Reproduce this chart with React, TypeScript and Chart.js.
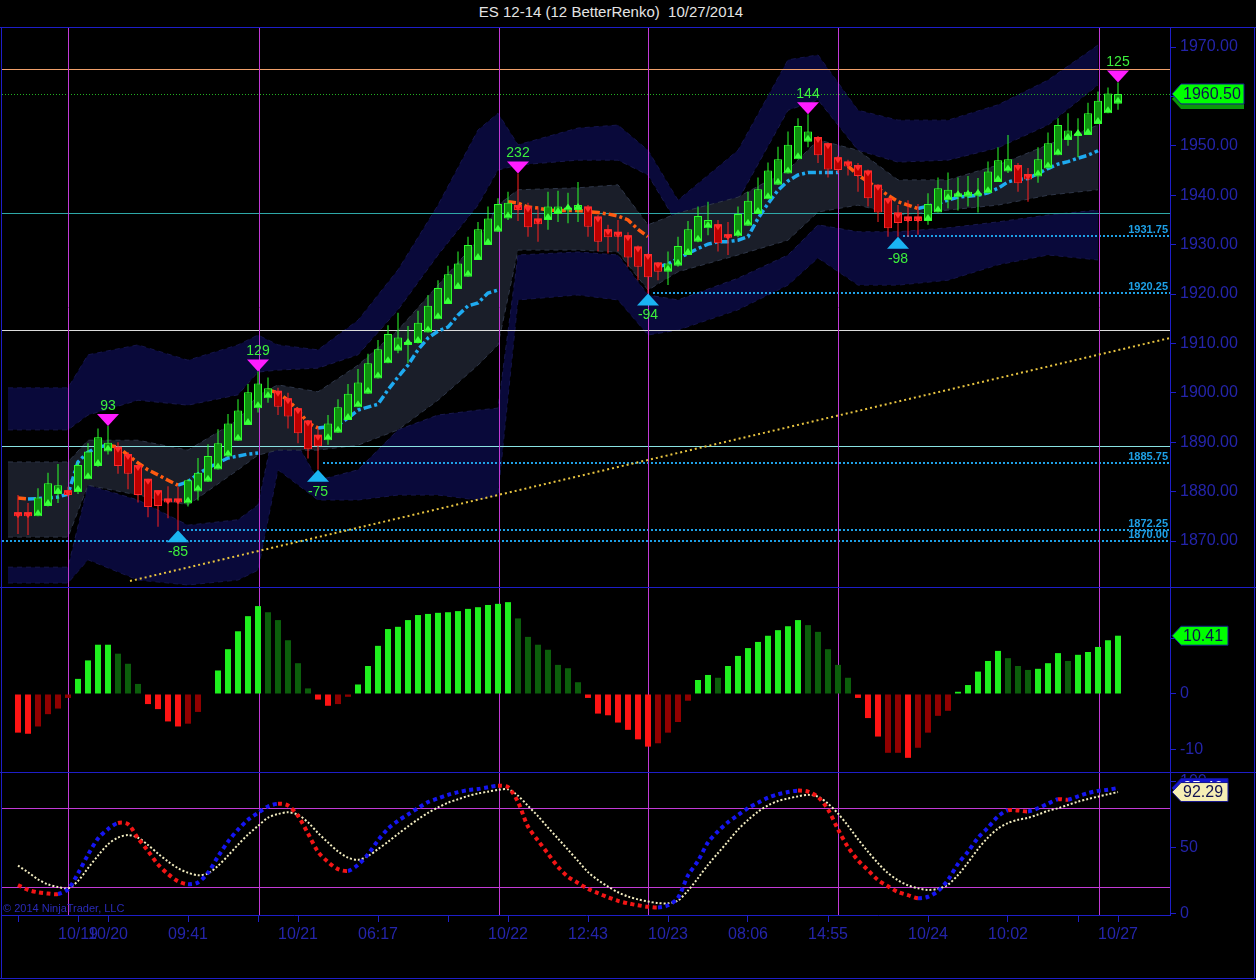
import React, { useEffect, useRef } from 'react';
import { Chart, registerables } from 'chart.js';

Chart.register(...registerables);

// ---------------- data ----------------
const openP = [
  1875.8, 1875.8, 1875.0, 1877.1, 1879.5, 1880.3, 1879.9, 1882.5, 1885.2, 1888.1,
  1889.1, 1887.6, 1885.4, 1882.6, 1880.3, 1878.6, 1878.6, 1877.6, 1880.0, 1882.0,
  1884.5, 1887.1, 1890.3, 1893.5, 1896.9, 1898.9, 1900.4, 1898.9, 1896.9, 1894.4,
  1891.5, 1890.4, 1891.9, 1894.5, 1897.1, 1899.8, 1902.9, 1906.0, 1908.5, 1909.7,
  1910.1, 1912.2, 1914.9, 1918.0, 1921.0, 1923.5, 1926.9, 1929.9, 1932.6, 1935.3,
  1938.0, 1937.7, 1935.3, 1935.0, 1936.2, 1936.9, 1937.0, 1937.7, 1935.7, 1933.1,
  1932.6, 1931.9, 1929.6, 1928.1, 1926.4, 1924.5, 1925.7, 1927.9, 1930.6, 1933.3,
  1934.1, 1932.1, 1931.7, 1933.8, 1936.2, 1939.2, 1942.1, 1944.4, 1947.3, 1950.8,
  1951.8, 1950.5, 1947.7, 1946.8, 1946.1, 1945.0, 1942.1, 1939.4, 1936.5, 1935.7,
  1935.7, 1934.8, 1936.5, 1939.0, 1939.6, 1939.7, 1939.9, 1940.4, 1942.7, 1944.8,
  1946.1, 1944.3, 1943.8, 1945.4, 1948.1, 1951.2, 1952.0, 1952.2, 1954.4, 1956.6,
  1958.5,
];
const closeP = [
  1875.0, 1875.0, 1878.8, 1881.7, 1881.3, 1879.3, 1885.4, 1888.1, 1891.0, 1889.9,
  1885.2, 1883.6, 1879.3, 1876.9, 1877.1, 1877.8, 1877.8, 1882.3, 1883.8, 1887.2,
  1889.8, 1893.8, 1896.4, 1900.1, 1901.9, 1900.9, 1897.2, 1895.2, 1891.8, 1888.6,
  1889.2, 1893.8, 1897.1, 1899.8, 1902.1, 1906.0, 1908.8, 1911.9, 1911.2, 1910.3,
  1914.2, 1917.6, 1921.2, 1924.0, 1926.2, 1929.9, 1933.1, 1935.3, 1938.2, 1938.5,
  1937.0, 1933.5, 1934.1, 1937.7, 1937.7, 1937.5, 1938.0, 1933.6, 1930.6, 1931.5,
  1931.6, 1927.4, 1925.5, 1923.4, 1924.5, 1926.2, 1929.7, 1933.1, 1935.8, 1935.0,
  1930.3, 1931.4, 1936.2, 1938.9, 1941.2, 1945.0, 1947.3, 1950.2, 1954.0, 1952.9,
  1948.1, 1945.2, 1945.1, 1945.8, 1943.9, 1939.4, 1936.5, 1933.3, 1934.4, 1934.8,
  1934.8, 1938.2, 1941.4, 1941.1, 1940.4, 1940.7, 1940.4, 1944.8, 1947.1, 1947.3,
  1942.4, 1943.2, 1947.3, 1950.5, 1954.2, 1953.1, 1952.5, 1956.6, 1959.1, 1960.6,
  1960.5,
];
const highP = [
  1879.3, 1877.7, 1880.7, 1883.8, 1885.6, 1881.0, 1886.0, 1889.8, 1892.8, 1893.3,
  1890.0, 1888.0, 1885.5, 1882.6, 1880.3, 1881.1, 1881.0, 1882.5, 1886.8, 1889.6,
  1892.6, 1895.7, 1898.7, 1901.8, 1904.3, 1903.1, 1901.0, 1900.0, 1897.0, 1894.5,
  1892.8, 1895.5, 1898.7, 1901.8, 1904.8, 1907.9, 1910.7, 1913.7, 1916.2, 1913.5,
  1916.6, 1919.8, 1922.8, 1925.7, 1928.6, 1931.6, 1934.6, 1937.7, 1939.4, 1940.7,
  1944.4, 1938.5, 1937.5, 1940.7, 1940.9, 1940.5, 1942.7, 1938.0, 1936.0, 1934.0,
  1935.0, 1932.5, 1929.8, 1928.2, 1926.5, 1928.6, 1931.6, 1934.8, 1937.7, 1938.7,
  1935.0, 1934.6, 1937.7, 1940.7, 1943.6, 1946.6, 1949.8, 1952.9, 1955.6, 1956.4,
  1952.0, 1950.6, 1948.0, 1947.2, 1946.5, 1945.2, 1942.2, 1939.5, 1938.0, 1939.0,
  1938.2, 1940.4, 1943.6, 1944.6, 1943.6, 1943.9, 1943.5, 1946.8, 1949.7, 1952.2,
  1946.5, 1945.5, 1949.7, 1952.7, 1955.6, 1956.6, 1955.6, 1958.7, 1961.0, 1961.8,
  1962.8,
];
const lowP = [
  1871.4, 1871.2, 1875.0, 1877.0, 1877.7, 1879.0, 1879.5, 1882.5, 1885.0, 1887.5,
  1883.6, 1880.5, 1877.8, 1874.8, 1872.9, 1874.6, 1872.2, 1877.0, 1878.2, 1882.0,
  1884.5, 1887.0, 1890.3, 1893.5, 1896.0, 1898.0, 1895.5, 1892.8, 1889.8, 1886.7,
  1884.4, 1889.5, 1891.9, 1894.5, 1897.1, 1899.8, 1902.9, 1906.0, 1908.0, 1906.0,
  1910.0, 1912.2, 1914.9, 1918.0, 1921.0, 1923.5, 1926.9, 1929.9, 1932.6, 1935.0,
  1934.8, 1931.6, 1930.6, 1933.0, 1934.6, 1934.3, 1934.6, 1931.6, 1928.6, 1928.2,
  1928.6, 1925.5, 1922.8, 1920.1, 1922.8, 1921.8, 1925.5, 1927.9, 1930.5, 1931.9,
  1928.6, 1927.9, 1931.5, 1933.8, 1936.2, 1939.2, 1942.1, 1944.4, 1947.3, 1949.7,
  1946.5, 1943.6, 1944.5, 1944.0, 1940.7, 1937.7, 1934.6, 1931.6, 1931.6, 1931.6,
  1932.0, 1934.0, 1936.5, 1937.3, 1936.9, 1937.7, 1936.5, 1940.4, 1942.7, 1944.5,
  1940.7, 1938.7, 1942.5, 1945.4, 1948.1, 1950.0, 1947.7, 1952.2, 1954.4, 1956.6,
  1957.3,
];

// trailing line (up = cyan, down = orange), segments by start bar
const maUpStarts = [1, 16, 30, 64, 90];
const maUpSegs = [
  [1878.5, 1878.6, 1878.7, 1878.9, 1879.5, 1886.0, 1888.0, 1889.0, 1889.4],
  [1881.3, 1882.0, 1883.6, 1884.8, 1885.8, 1886.8, 1887.2, 1887.6, 1887.8],
  [1892.9, 1893.1, 1893.5, 1894.9, 1896.5, 1897.1, 1897.7, 1900.6, 1903.2, 1905.6,
    1908.7, 1911.1, 1912.5, 1913.3, 1915.7, 1917.6, 1918.2, 1920.2, 1920.8],
  [1925.5, 1926.1, 1927.2, 1928.2, 1929.2, 1930.1, 1930.6, 1930.6, 1930.9, 1931.6,
    1935.3, 1938.3, 1941.0, 1942.9, 1944.1, 1944.6, 1944.6, 1944.6, 1944.6],
  [1937.3, 1937.8, 1938.3, 1939.0, 1939.6, 1939.8, 1940.0, 1940.5, 1941.4, 1942.7,
    1943.2, 1943.4, 1944.4, 1945.4, 1946.3, 1946.8, 1947.5, 1948.1, 1949.0],
];
const maDownStarts = [0, 9, 25, 49, 83];
const maDownSegs = [
  [1878.7, 1878.5],
  [1889.4, 1889.0, 1887.4, 1885.8, 1884.4, 1883.4, 1882.3, 1881.3],
  [1900.6, 1900.0, 1898.5, 1896.5, 1893.9, 1892.9],
  [1938.7, 1938.4, 1937.6, 1937.4, 1937.0, 1936.9, 1936.9, 1936.9, 1936.7, 1936.5,
    1936.2, 1935.8, 1935.0, 1933.1, 1931.6],
  [1945.9, 1944.1, 1942.7, 1941.4, 1940.0, 1938.7, 1938.0, 1937.3],
];

// envelope bands (knots at bar indexes)
const bandIdx = [-1, 5, 7, 12, 17, 22, 24, 26, 30, 34, 38, 42, 46, 48, 50, 56, 60, 63, 66, 72, 77, 80, 84, 88, 93, 98, 103, 108];
const navyTop = [1901.0, 1901.0, 1907.7, 1909.7, 1906.6, 1909.7, 1911.7, 1909.7, 1908.7, 1914.7, 1924.9, 1938.0, 1953.2, 1956.6, 1950.2, 1953.6, 1954.2, 1949.1, 1939.0, 1949.1, 1967.4, 1968.4, 1957.2, 1955.2, 1955.2, 1958.3, 1963.3, 1970.4];
const navyTopInner = [1892.5, 1892.5, 1895.5, 1898.5, 1897.5, 1899.6, 1904.2, 1904.6, 1905.0, 1907.7, 1916.8, 1927.9, 1938.0, 1945.1, 1946.1, 1947.1, 1947.1, 1944.1, 1934.0, 1939.0, 1957.2, 1959.3, 1949.1, 1946.7, 1947.1, 1949.6, 1954.2, 1962.3];
const slateTop = [1886.0, 1886.0, 1890.4, 1890.4, 1888.4, 1894.5, 1899.6, 1901.6, 1900.2, 1905.6, 1912.7, 1921.8, 1930.9, 1938.0, 1941.1, 1941.5, 1942.1, 1934.0, 1936.4, 1939.6, 1945.1, 1951.2, 1949.1, 1943.1, 1943.1, 1946.1, 1950.2, 1954.2];
const slateBot = [1870.8, 1870.8, 1881.3, 1879.3, 1877.3, 1884.4, 1887.4, 1888.4, 1888.4, 1889.4, 1892.5, 1898.5, 1905.6, 1909.7, 1928.9, 1928.9, 1928.5, 1920.8, 1924.5, 1927.9, 1930.9, 1936.6, 1938.0, 1936.0, 1937.0, 1938.0, 1940.0, 1941.1];
const navyBotInner = [1864.7, 1864.7, 1881.3, 1878.3, 1873.2, 1874.3, 1877.3, 1896.5, 1882.3, 1884.4, 1892.5, 1895.5, 1896.5, 1896.9, 1927.9, 1928.5, 1927.9, 1919.8, 1918.8, 1923.2, 1927.9, 1934.0, 1932.6, 1932.6, 1933.4, 1934.6, 1936.0, 1937.0];
const navyBot = [1861.5, 1861.5, 1866.2, 1862.1, 1861.1, 1862.1, 1864.1, 1884.4, 1878.3, 1878.3, 1879.3, 1879.3, 1878.3, 1879.3, 1918.8, 1919.8, 1918.8, 1911.7, 1912.7, 1916.8, 1921.8, 1927.3, 1921.8, 1921.8, 1922.8, 1925.9, 1927.9, 1926.9];

const levelPrices = [1965.5, 1936.45, 1912.7, 1889.2];
const levelColors = ['#f0a06c', '#2ea8a8', '#dcdcdc', '#8ae2e2'];
const supportPrices = [1931.75, 1920.25, 1885.75, 1872.25, 1870.0];
const supportFrom = [88.5, 63.5, 30.5, 16.5, -1.6];
const supportText = ['1931.75', '1920.25', '1885.75', '1872.25', '1870.00'];
const trendIdx = [11.2, 115.2];
const trendPrice = [1861.9, 1911.1];
const swingHighIdx = [9, 24, 50, 79, 110];
const swingHighText = ['93', '129', '232', '144', '125'];
const swingLowIdx = [16, 30, 63, 88];
const swingLowText = ['-85', '-75', '-94', '-98'];
const sessionIdx = [5, 24.1, 48.1, 63, 82, 108.1];
const lastPrice = 1960.5;

const histVals = [
  -6.9, -7.1, -5.8, -3.6, -2.6, -0.7, 2.7, 6.0, 8.8, 8.8,
  7.2, 5.4, 1.8, -1.8, -2.7, -4.9, -5.8, -5.3, -3.2, 0,
  4.2, 8.0, 11.2, 13.9, 15.7, 14.6, 13.2, 9.6, 5.5, 1.0,
  -1.0, -2.1, -1.8, -0.5, 1.7, 5.0, 8.6, 11.6, 12.0, 13.2,
  14.1, 14.3, 14.5, 14.6, 14.8, 15.2, 15.5, 15.9, 16.1, 16.4,
  13.5, 10.2, 8.8, 7.9, 5.2, 4.6, 2.1, -0.7, -3.5, -3.8,
  -5.1, -6.4, -8.1, -9.4, -8.8, -6.9, -5.0, -1.2, 2.5, 3.4,
  2.9, 5.0, 6.8, 8.2, 9.3, 10.4, 11.4, 12.1, 13.2, 12.3,
  11.1, 8.0, 5.2, 2.9, -0.7, -4.3, -7.6, -10.5, -10.5, -11.4,
  -9.6, -6.9, -3.9, -3.0, 0.4, 1.6, 4.0, 5.9, 7.7, 6.4,
  5.0, 4.3, 4.5, 5.5, 7.3, 5.9, 7.0, 7.5, 8.4, 9.6,
  10.41,
];
// G bright green, g dark green, R bright red, r dark red
const histShade = [
  'RRrrrr', 'GGGG', 'ggg', 'RRRR', 'rr', 'G', 'GGGGG', 'ggggg', 'RR', 'rr',
  'GGGGGGGGGGGGGGGG', 'ggggggg', 'RRRRRRR', 'rrrr', 'GG', 'g', 'GGGGGGGG', 'ggggg',
  'RRR', 'rr', 'R', 'rrrr', 'GGGGG', 'ggg', 'GGG', 'g', 'GGGGG',
].join('');

const stochFast = [
  21.7, 18.0, 16.2, 15.2, 14.9, 18.5, 30.5, 44.7, 57.0, 64.2,
  68.8, 67.9, 57.2, 47.6, 37.3, 30.1, 24.6, 22.3, 23.7, 31.0,
  43.3, 54.6, 63.7, 71.2, 76.5, 81.3, 83.4, 82.1, 74.2, 60.8,
  47.0, 39.2, 33.8, 32.4, 37.0, 45.0, 55.6, 64.5, 70.5, 75.3,
  80.1, 84.7, 87.5, 90.2, 92.2, 93.7, 94.6, 95.9, 97.1, 96.0,
  84.7, 66.0, 55.5, 45.5, 35.5, 28.0, 23.3, 18.8, 15.5, 12.4,
  9.7, 7.8, 6.3, 5.2, 4.7, 6.3, 12.0, 29.0, 40.0, 54.0,
  62.5, 69.4, 74.8, 80.1, 84.2, 88.0, 90.6, 92.3, 93.4, 92.6,
  88.5, 79.0, 64.0, 50.5, 40.5, 33.0, 25.5, 20.7, 16.4, 14.0,
  11.7, 12.8, 17.2, 25.6, 37.8, 47.0, 57.5, 65.3, 73.8, 78.5,
  78.3, 77.6, 80.0, 83.5, 86.8, 86.5, 89.0, 91.5, 93.2, 94.1,
  95.4,
];
const stochSlow = [
  36.4, 31.4, 26.0, 22.2, 20.2, 19.2, 24.8, 34.5, 44.0, 52.6,
  57.7, 59.6, 57.6, 52.1, 45.6, 39.5, 34.5, 31.0, 29.2, 30.5,
  36.3, 44.0, 52.3, 60.0, 66.6, 72.8, 75.6, 76.9, 75.0, 69.3,
  61.2, 54.0, 47.2, 42.5, 40.8, 43.7, 49.0, 54.5, 60.5, 66.2,
  71.6, 76.5, 80.6, 84.2, 86.8, 89.3, 91.2, 92.6, 93.9, 94.3,
  89.5, 81.8, 74.0, 65.3, 57.0, 48.5, 40.0, 31.5, 25.5, 20.5,
  16.2, 13.0, 10.8, 9.2, 8.0, 7.8, 10.0, 17.5, 27.0, 37.0,
  46.0, 54.8, 63.8, 71.1, 77.3, 82.2, 85.5, 87.4, 89.0, 90.2,
  88.8, 83.5, 76.0, 66.7, 56.5, 47.0, 38.3, 30.7, 25.3, 21.5,
  19.2, 18.0, 18.8, 22.0, 29.3, 38.8, 49.0, 57.8, 64.5, 68.8,
  71.2, 72.7, 75.2, 78.0, 80.0, 82.5, 85.0, 87.0, 88.8, 90.6,
  92.29,
];
const stochLevels = [80, 20];

const priceTicks = [1870, 1880, 1890, 1900, 1910, 1920, 1930, 1940, 1950, 1960, 1970];
const histTicks = [-10, 0, 10];
const stochTicks = [0, 50, 100];
const tickIdx = [0, 6, 9, 17, 24, 28, 36, 43, 49, 57, 65, 73, 81, 91, 99, 106, 110];
const tickText = ['', '10/19', '10/20', '09:41', '', '10/21', '06:17', '', '10/22', '12:43', '10/23', '08:06', '14:55', '10/24', '10:02', '', '10/27'];

// ---------------- style ----------------
const FONT = "'Liberation Sans', Arial, Helvetica, sans-serif";
const AXIS_LINE = '#1e1ec8';
const AXIS_TEXT = '#2424aa';
const SESSION_COLOR = '#c23ad6';
const NAVY = '#09093a';
const SLATE = '#1a1e29';
const SUPPORT = '#1ea0e6';
const LABEL_GREEN = '#3cf03c';
const X_MIN = -1.6;
const X_MAX = 115.2;
const AXIS_W = 86;
const SHADE: Record<string, string> = { G: '#1ef01e', g: '#0b5e0b', R: '#ff1414', r: '#900000' };

function yAxis(min: number, max: number, ticks: number[], fmt: (v: number) => string): any {
  return {
    type: 'linear',
    position: 'right',
    min,
    max,
    offset: false,
    afterBuildTicks: (s: any) => {
      s.ticks = ticks.map((v) => ({ value: v }));
    },
    afterFit: (s: any) => {
      s.width = AXIS_W;
      s.paddingTop = 0;
      s.paddingBottom = 0;
    },
    ticks: {
      autoSkip: false,
      color: AXIS_TEXT,
      font: { family: FONT, size: 16 },
      padding: 4,
      callback: (v: any) => fmt(Number(v)),
    },
    grid: { drawOnChartArea: false, drawTicks: true, tickLength: 6, color: AXIS_LINE, offset: false },
    border: { display: true, color: AXIS_LINE, width: 1 },
  };
}

const hiddenX: any = { type: 'linear', min: X_MIN, max: X_MAX, display: false, offset: false, grid: { offset: false } };

const baseOptions: any = {
  responsive: false,
  animation: false,
  devicePixelRatio: 1,
  events: [],
  layout: { padding: { left: 2, right: 0, top: 0, bottom: 0 } },
  plugins: { legend: { display: false }, tooltip: { enabled: false } },
};

function segPoints(starts: number[], segs: number[][]) {
  const out: any[] = [];
  starts.forEach((s, k) => {
    if (k > 0) out.push({ x: s - 0.5, y: null });
    segs[k].forEach((v, j) => out.push({ x: s + j, y: v }));
  });
  return out;
}

function drawTag(ctx: any, xLeft: number, cy: number, w: number, h: number, fill: string, text: string, textColor: string) {
  ctx.beginPath();
  ctx.moveTo(xLeft, cy);
  ctx.lineTo(xLeft + 9, cy - h / 2);
  ctx.lineTo(xLeft + w, cy - h / 2);
  ctx.lineTo(xLeft + w, cy + h / 2);
  ctx.lineTo(xLeft + 9, cy + h / 2);
  ctx.closePath();
  ctx.fillStyle = fill;
  ctx.fill();
  ctx.strokeStyle = '#14148c';
  ctx.lineWidth = 1;
  ctx.stroke();
  ctx.fillStyle = textColor;
  ctx.font = `16px ${FONT}`;
  ctx.textAlign = 'left';
  ctx.textBaseline = 'middle';
  ctx.fillText(text, xLeft + 11, cy + 1);
}

function drawSessions(ctx: any, chart: any) {
  const a = chart.chartArea;
  const xs = chart.scales.x;
  ctx.save();
  ctx.strokeStyle = SESSION_COLOR;
  ctx.lineWidth = 1;
  ctx.setLineDash([]);
  sessionIdx.forEach((i) => {
    const px = Math.round(xs.getPixelForValue(i)) + 0.5;
    ctx.beginPath();
    ctx.moveTo(px, a.top);
    ctx.lineTo(px, a.bottom);
    ctx.stroke();
  });
  ctx.restore();
}

const pricePlugin: any = {
  id: 'priceOverlay',
  beforeDatasetDraw(chart: any, args: any) {
    if (chart.data.datasets[args.index].label !== 'trend') return;
    const { ctx, chartArea: a } = chart;
    const xs = chart.scales.x;
    const ys = chart.scales.y;
    ctx.save();
    ctx.beginPath();
    ctx.rect(a.left, a.top, a.right - a.left, a.bottom - a.top);
    ctx.clip();
    levelPrices.forEach((p, k) => {
      const py = Math.round(ys.getPixelForValue(p)) + 0.5;
      ctx.strokeStyle = levelColors[k];
      ctx.lineWidth = 1;
      ctx.setLineDash([]);
      ctx.beginPath();
      ctx.moveTo(a.left, py);
      ctx.lineTo(a.right, py);
      ctx.stroke();
    });
    {
      const py = Math.round(ys.getPixelForValue(lastPrice)) + 0.5;
      ctx.strokeStyle = '#22b022';
      ctx.lineWidth = 1;
      ctx.setLineDash([1, 2]);
      ctx.beginPath();
      ctx.moveTo(a.left, py);
      ctx.lineTo(a.right, py);
      ctx.stroke();
    }
    supportPrices.forEach((p, k) => {
      const py = Math.round(ys.getPixelForValue(p));
      ctx.strokeStyle = SUPPORT;
      ctx.lineWidth = 2;
      ctx.setLineDash([2, 2]);
      ctx.beginPath();
      ctx.moveTo(xs.getPixelForValue(supportFrom[k]), py);
      ctx.lineTo(a.right, py);
      ctx.stroke();
    });
    ctx.restore();
    drawSessions(ctx, chart);
  },
  afterDatasetsDraw(chart: any) {
    const { ctx } = chart;
    const xs = chart.scales.x;
    const ys = chart.scales.y;
    ctx.save();
    // open markers
    openP.forEach((o, i) => {
      const px = xs.getPixelForValue(i);
      const py = ys.getPixelForValue(o);
      ctx.beginPath();
      if (closeP[i] >= o) {
        ctx.fillStyle = '#3cff3c';
        ctx.moveTo(px, py - 7);
        ctx.lineTo(px - 4, py - 1);
        ctx.lineTo(px + 4, py - 1);
      } else {
        ctx.fillStyle = '#ff2a2a';
        ctx.moveTo(px, py + 6);
        ctx.lineTo(px - 4, py);
        ctx.lineTo(px + 4, py);
      }
      ctx.closePath();
      ctx.fill();
    });
    // swing highs
    ctx.font = `14px ${FONT}`;
    ctx.textAlign = 'center';
    ctx.textBaseline = 'middle';
    swingHighIdx.forEach((idx, k) => {
      const px = xs.getPixelForValue(idx);
      const tip = ys.getPixelForValue(highP[idx]);
      ctx.fillStyle = '#ff1cff';
      ctx.beginPath();
      ctx.moveTo(px - 11, tip - 12);
      ctx.lineTo(px + 11, tip - 12);
      ctx.lineTo(px, tip);
      ctx.closePath();
      ctx.fill();
      ctx.fillStyle = LABEL_GREEN;
      ctx.fillText(swingHighText[k], px, tip - 20);
    });
    swingLowIdx.forEach((idx, k) => {
      const px = xs.getPixelForValue(idx);
      const tip = ys.getPixelForValue(lowP[idx]);
      ctx.fillStyle = '#1ab4f2';
      ctx.beginPath();
      ctx.moveTo(px - 11, tip + 12);
      ctx.lineTo(px + 11, tip + 12);
      ctx.lineTo(px, tip);
      ctx.closePath();
      ctx.fill();
      ctx.fillStyle = LABEL_GREEN;
      ctx.fillText(swingLowText[k], px, tip + 22);
    });
    // support labels
    ctx.font = `bold 11px ${FONT}`;
    ctx.textAlign = 'right';
    ctx.textBaseline = 'bottom';
    ctx.fillStyle = SUPPORT;
    supportPrices.forEach((p, k) => {
      const py = Math.round(ys.getPixelForValue(p));
      ctx.fillText(supportText[k], chart.chartArea.right - 2, py - 1);
    });
    ctx.restore();
  },
  afterDraw(chart: any) {
    const { ctx } = chart;
    const ys = chart.scales.y;
    const cy = ys.getPixelForValue(lastPrice);
    const xl = chart.chartArea.right + 2;
    ctx.save();
    ctx.beginPath();
    ctx.moveTo(xl, cy + 5);
    ctx.lineTo(xl + 9, cy - 5);
    ctx.lineTo(xl + 72, cy - 5);
    ctx.lineTo(xl + 72, cy + 15);
    ctx.lineTo(xl + 9, cy + 15);
    ctx.closePath();
    ctx.fillStyle = '#0a960a';
    ctx.fill();
    drawTag(ctx, xl, cy, 72, 20, '#00ff00', lastPrice.toFixed(2), '#101050');
    ctx.restore();
  },
};

const histPlugin: any = {
  id: 'histOverlay',
  beforeDatasetsDraw(chart: any) {
    drawSessions(chart.ctx, chart);
  },
  afterDraw(chart: any) {
    const { ctx } = chart;
    const ys = chart.scales.y;
    const v = histVals[histVals.length - 1];
    ctx.save();
    drawTag(ctx, chart.chartArea.right + 2, ys.getPixelForValue(v), 56, 19, '#00ff00', v.toFixed(2), '#101050');
    ctx.restore();
  },
};

const stochPlugin: any = {
  id: 'stochOverlay',
  beforeDatasetsDraw(chart: any) {
    const { ctx, chartArea: a } = chart;
    const ys = chart.scales.y;
    ctx.save();
    ctx.strokeStyle = SESSION_COLOR;
    ctx.lineWidth = 1;
    stochLevels.forEach((lv) => {
      const py = Math.round(ys.getPixelForValue(lv)) + 0.5;
      ctx.beginPath();
      ctx.moveTo(a.left, py);
      ctx.lineTo(a.right, py);
      ctx.stroke();
    });
    ctx.restore();
    drawSessions(ctx, chart);
  },
  afterDatasetsDraw(chart: any) {
    const { ctx, chartArea: a } = chart;
    ctx.save();
    ctx.fillStyle = '#2a2ab8';
    ctx.font = `11px ${FONT}`;
    ctx.textAlign = 'left';
    ctx.textBaseline = 'middle';
    ctx.fillText('\u00a9 2014 NinjaTrader, LLC', a.left + 1, a.bottom - 6);
    ctx.restore();
  },
  afterDraw(chart: any) {
    const { ctx } = chart;
    const ys = chart.scales.y;
    const xl = chart.chartArea.right + 2;
    const f = stochFast[stochFast.length - 1];
    const s = stochSlow[stochSlow.length - 1];
    ctx.save();
    drawTag(ctx, xl, ys.getPixelForValue(f), 56, 19, '#1414d0', f.toFixed(2), '#ffffff');
    drawTag(ctx, xl, ys.getPixelForValue(s), 56, 19, '#f6eeb4', s.toFixed(2), '#101050');
    ctx.restore();
  },
};

function bandDs(label: string, vals: number[], order: number, fill: any, bg: string, border: string): any {
  return {
    type: 'line',
    label,
    data: bandIdx.map((x, k) => ({ x, y: vals[k] })),
    order,
    fill,
    backgroundColor: bg,
    borderColor: border,
    borderWidth: 1,
    borderDash: [5, 4],
    pointRadius: 0,
    tension: 0,
  };
}

function priceConfig(): any {
  const idx = openP.map((_, i) => i);
  const up = idx.map((i) => closeP[i] >= openP[i]);
  return {
    type: 'line',
    data: {
      datasets: [
        bandDs('navyTop', navyTop, 60, '+1', NAVY, '#14144a'),
        bandDs('navyTopInner', navyTopInner, 59, false, NAVY, '#18184c'),
        bandDs('navyBotInner', navyBotInner, 58, '+1', NAVY, '#18184c'),
        bandDs('navyBot', navyBot, 57, false, NAVY, '#14144a'),
        bandDs('slateTop', slateTop, 56, '+1', SLATE, '#2e3648'),
        bandDs('slateBot', slateBot, 55, false, SLATE, '#2e3648'),
        {
          type: 'line',
          label: 'trend',
          data: trendIdx.map((x, k) => ({ x, y: trendPrice[k] })),
          order: 40,
          borderColor: '#e8c440',
          borderWidth: 2,
          borderDash: [2, 3],
          pointRadius: 0,
          fill: false,
        },
        {
          type: 'line',
          label: 'maUp',
          data: segPoints(maUpStarts, maUpSegs),
          order: 30,
          borderColor: '#1eaaf0',
          borderWidth: 3.5,
          borderDash: [8, 3, 3, 3],
          borderCapStyle: 'butt',
          pointRadius: 0,
          fill: false,
          spanGaps: false,
        },
        {
          type: 'line',
          label: 'maDown',
          data: segPoints(maDownStarts, maDownSegs),
          order: 29,
          borderColor: '#ff5a10',
          borderWidth: 3.5,
          borderDash: [8, 3, 3, 3],
          borderCapStyle: 'butt',
          pointRadius: 0,
          fill: false,
          spanGaps: false,
        },
        {
          type: 'bar',
          label: 'wicks',
          data: idx.map((i) => ({ x: i, y: [lowP[i], highP[i]] })),
          order: 20,
          grouped: false,
          categoryPercentage: 1,
          barPercentage: 0.1,
          backgroundColor: up.map((u) => (u ? '#2cff2c' : '#ff2020')),
          borderWidth: 0,
        },
        {
          type: 'bar',
          label: 'bodies',
          data: idx.map((i) => ({ x: i, y: [openP[i], closeP[i]] })),
          order: 10,
          grouped: false,
          categoryPercentage: 1,
          barPercentage: 0.8,
          backgroundColor: up.map((u) => (u ? '#0f8f0f' : '#bb0000')),
          borderColor: up.map((u) => (u ? '#2cff2c' : '#ff2a2a')),
          borderWidth: 1,
          borderSkipped: false,
        },
      ],
    },
    options: {
      ...baseOptions,
      scales: {
        x: hiddenX,
        y: yAxis(1860.69, 1973.85, priceTicks, (v) => v.toFixed(2)),
      },
    },
    plugins: [pricePlugin],
  };
}

function histConfig(): any {
  return {
    type: 'bar',
    data: {
      datasets: [
        {
          label: 'hist',
          data: histVals.map((v, i) => ({ x: i, y: v })),
          grouped: false,
          categoryPercentage: 1,
          barPercentage: 0.6,
          backgroundColor: histVals.map((_, i) => SHADE[histShade[i]]),
          borderWidth: 0,
        },
      ],
    },
    options: {
      ...baseOptions,
      scales: {
        x: hiddenX,
        y: yAxis(-13.93, 18.93, histTicks, (v) => String(v)),
      },
    },
    plugins: [histPlugin],
  };
}

function stochConfig(): any {
  return {
    type: 'line',
    data: {
      datasets: [
        {
          label: 'fast',
          data: stochFast.map((v, i) => ({ x: i, y: v })),
          order: 1,
          borderWidth: 4,
          borderDash: [4, 3.5],
          borderCapStyle: 'butt',
          borderColor: '#1515f0',
          segment: {
            borderColor: (c: any) => (c.p1.parsed.y >= c.p0.parsed.y ? '#1515f0' : '#f21515'),
          },
          pointRadius: 0,
          fill: false,
          tension: 0.3,
        },
        {
          label: 'slow',
          data: stochSlow.map((v, i) => ({ x: i, y: v })),
          order: 2,
          borderWidth: 2,
          borderDash: [2, 2],
          borderColor: '#f2ecc0',
          pointRadius: 0,
          fill: false,
          tension: 0.3,
        },
      ],
    },
    options: {
      ...baseOptions,
      scales: {
        x: {
          type: 'linear',
          min: X_MIN,
          max: X_MAX,
          offset: false,
          position: 'bottom',
          afterBuildTicks: (s: any) => {
            s.ticks = tickIdx.map((v) => ({ value: v }));
          },
          afterFit: (s: any) => {
            s.height = 63;
            s.paddingLeft = 0;
            s.paddingRight = 0;
          },
          ticks: {
            autoSkip: false,
            maxRotation: 0,
            minRotation: 0,
            color: AXIS_TEXT,
            font: { family: FONT, size: 16 },
            padding: 3,
            callback: (_v: any, i: number) => tickText[i],
          },
          grid: { drawOnChartArea: false, drawTicks: true, tickLength: 7, color: AXIS_LINE, offset: false },
          border: { display: true, color: AXIS_LINE, width: 1 },
        },
        y: yAxis(-1.06, 106.76, stochTicks, (v) => String(v)),
      },
    },
    plugins: [stochPlugin],
  };
}

const line = (l: number, t: number, w: number, h: number) => (
  <div style={{ position: 'absolute', left: l, top: t, width: w, height: h, background: AXIS_LINE }} />
);

export default function App() {
  const priceRef = useRef<HTMLCanvasElement>(null);
  const histRef = useRef<HTMLCanvasElement>(null);
  const stochRef = useRef<HTMLCanvasElement>(null);

  useEffect(() => {
    const charts: Chart[] = [];
    if (priceRef.current) charts.push(new Chart(priceRef.current, priceConfig()));
    if (histRef.current) charts.push(new Chart(histRef.current, histConfig()));
    if (stochRef.current) charts.push(new Chart(stochRef.current, stochConfig()));
    return () => charts.forEach((c) => c.destroy());
  }, []);

  const canvasStyle = (top: number, h: number): React.CSSProperties => ({
    position: 'absolute',
    left: 0,
    top,
    width: 1256,
    height: h,
    display: 'block',
  });

  return (
    <div style={{ position: 'fixed', left: 0, top: 0, width: 1256, height: 980, background: '#000', overflow: 'hidden' }}>
      <div
        style={{
          position: 'absolute',
          left: 611,
          top: 3,
          transform: 'translateX(-50%)',
          color: '#e4e4e4',
          font: `15px ${FONT}`,
          whiteSpace: 'pre',
        }}
      >
        {'ES 12-14 (12 BetterRenko)  10/27/2014'}
      </div>
      <canvas ref={priceRef} width={1256} height={559} style={canvasStyle(28, 559)} />
      <canvas ref={histRef} width={1256} height={184} style={canvasStyle(588, 184)} />
      <canvas ref={stochRef} width={1256} height={205} style={canvasStyle(773, 205)} />
      {line(0, 27, 1256, 1)}
      {line(0, 587, 1256, 1)}
      {line(0, 772, 1256, 1)}
      {line(0, 978, 1256, 1)}
      {line(1, 27, 1, 952)}
      {line(1254, 27, 1, 952)}
    </div>
  );
}
